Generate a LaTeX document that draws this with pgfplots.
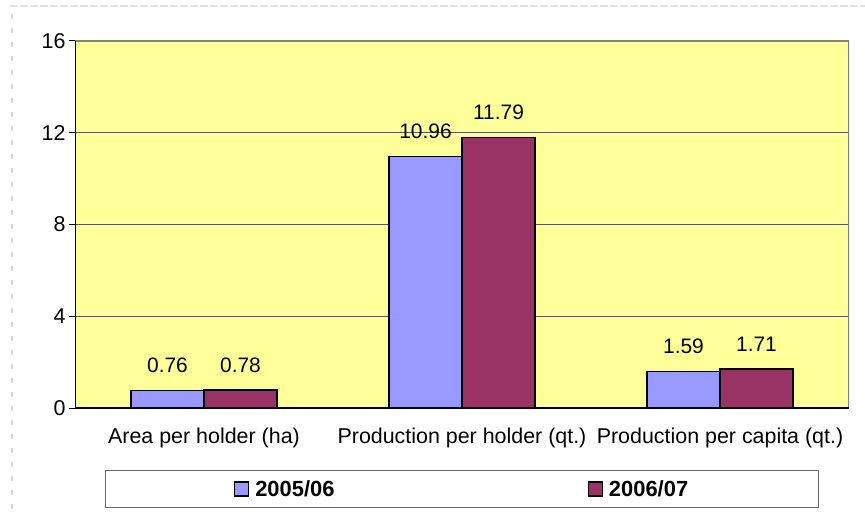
\documentclass[border=0pt]{standalone}
\usepackage{pgfplots}
\pgfplotsset{compat=1.18}
\usepackage{fontspec}
\setmainfont{Liberation Sans}
\definecolor{bgyellow}{HTML}{FFFF99}
\definecolor{periw}{HTML}{9999FF}
\definecolor{maroon}{HTML}{993366}
\begin{document}
\begin{tikzpicture}
\begin{axis}[
  at={(0,0)}, anchor=south west,
  scale only axis, width=774bp, height=367bp,
  xmin=-0.5, xmax=2.5, ymin=0, ymax=16,
  /pgf/number format/assume math mode=true,
  axis background/.style={fill=bgyellow},
  axis line style={draw=none},
  ybar=0pt, bar width=73bp,
  ytick={0,4,8,12,16},
  xtick={0,1,2},
  xticklabels={Area per holder (ha),Production per holder (qt.),Production per capita (qt.)},
  xtick style={draw=none},
  extra x ticks={-0.5,0.5,1.5,2.5},
  extra x tick labels={},
  extra x tick style={grid=none, tick style={draw=black, line width=1bp}},
  tick align=outside, tick pos=left,
  major tick length=6bp,
  ytick style={draw=black, line width=1bp},
  ymajorgrids, grid style={draw=black!65, line width=0.8bp},
  ticklabel style={font=\fontsize{21.5}{25}\selectfont},
  xticklabel style={yshift=-10bp},
  nodes near coords={\pgfmathprintnumber[fixed, precision=2, fixed zerofill]{\pgfplotspointmeta}},
  every node near coord/.append style={font=\fontsize{21}{25}\selectfont, inner sep=0pt, yshift=17bp},
  legend columns=2,
  legend style={at={(rel axis cs:0.5,0)}, anchor=north, yshift=-62bp,
    draw=black!60, line width=1bp, font=\fontsize{22}{26}\selectfont\bfseries,
    inner xsep=128bp, inner ysep=8bp,
    /tikz/every odd column/.append style={column sep=4bp},
    /tikz/every even column/.append style={column sep=251bp}},
  legend image code/.code={\draw[#1, draw=black, line width=1.5bp] (0bp,-7bp) rectangle (14bp,7bp);},
]
\addplot[fill=periw, draw=black, line width=1.5bp] coordinates {(0,0.76) (1,10.96) (2,1.59)};
\addplot[fill=maroon, draw=black, line width=1.5bp] coordinates {(0,0.78) (1,11.79) (2,1.71)};
\legend{2005/06,2006/07}
\draw[black!50, line width=2bp] (rel axis cs:0,1) -- (rel axis cs:1,1) -- (rel axis cs:1,0);
\draw[black, line width=1.2bp] (rel axis cs:0,1) -- (rel axis cs:0,0) -- (rel axis cs:1,0);
\end{axis}
\draw[black!12, line width=1.5bp, dash pattern=on 8bp off 2bp] (-65bp,402bp) -- (790bp,402bp);
\draw[black!15, line width=1.5bp, dash pattern=on 5bp off 9bp] (-63bp,394bp) -- (-63bp,-110bp);
\pgfresetboundingbox
\useasboundingbox (-75bp,-110bp) rectangle (790bp,408bp);
\end{tikzpicture}
\end{document}
